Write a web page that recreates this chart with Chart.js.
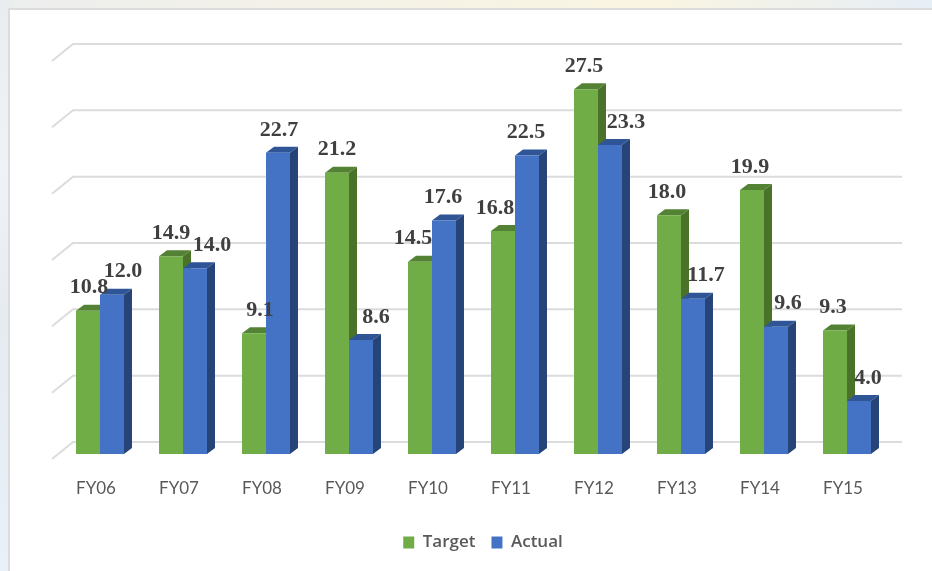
<!DOCTYPE html>
<html><head><meta charset="utf-8">
<style>
html,body{margin:0;padding:0;width:932px;height:571px;overflow:hidden;
background:linear-gradient(90deg,#eceeee 0,#f3f1e8 30%,#faf5e2 70%,#e6eef6 100%);}
#side{position:absolute;left:0;top:0;width:10px;height:571px;background:linear-gradient(180deg,#e9edf0 0,#eff3f7 30%,#e6ebf0 55%,#e8f0f8 100%);}
#panel{position:absolute;left:8px;top:8px;width:940px;height:580px;background:#fff;border:2px solid #dcdcdc;box-sizing:border-box;}
#wrap{position:absolute;left:0;top:0;width:932px;height:571px;}
</style>
<script src="https://cdn.jsdelivr.net/npm/chart.js@4"></script>
</head><body>
<div id="side"></div><div id="panel"></div>
<div id="wrap"><canvas id="c" width="932" height="571"></canvas></div>
<script>
const categories=["FY06","FY07","FY08","FY09","FY10","FY11","FY12","FY13","FY14","FY15"];
const target=[10.8,14.9,9.1,21.2,14.5,16.8,27.5,18.0,19.9,9.3];
const actual=[12.0,14.0,22.7,8.6,17.6,22.5,23.3,11.7,9.6,4.0];
const targetLabelShift=[1,0,6,0,-7,-8,-2,-2,-2,-2];
const actualLabelShift=[11,17,1,15,-1,-1,16,13,12,9];
const depthX=8,depthY=6;
const shades=[{top:"#548235",side:"#4a7329"},{top:"#2f5597",side:"#264478"}];
const labelShifts=[targetLabelShift,actualLabelShift];

function drawDepth(ctx,meta,s){
 meta.data.forEach(b=>{
  const l=b.x-b.width/2,r=b.x+b.width/2,t=b.y,bt=b.base;
  ctx.fillStyle=s.top;
  ctx.beginPath();ctx.moveTo(l,t);ctx.lineTo(l+depthX,t-depthY);ctx.lineTo(r+depthX,t-depthY);ctx.lineTo(r,t);ctx.closePath();ctx.fill();
  ctx.fillStyle=s.side;
  ctx.beginPath();ctx.moveTo(r,t);ctx.lineTo(r+depthX,t-depthY);ctx.lineTo(r+depthX,bt-depthY);ctx.lineTo(r,bt);ctx.closePath();ctx.fill();
 });
}

const wall={
 id:"wall",
 afterLayout(chart){chart.legend.left+=9.5;chart.legend.right+=9.5;},
 beforeDatasetsDraw(chart){
  const {ctx,chartArea:a,scales:{y}}=chart;
  ctx.save();ctx.strokeStyle="#dcdcdc";ctx.lineWidth=2;
  y.ticks.forEach(t=>{
   const p=y.getPixelForValue(t.value);
   ctx.beginPath();
   ctx.moveTo(a.left-6.5,p+5);
   ctx.lineTo(a.left+14.5,p-12);
   ctx.lineTo(a.right+13.5,p-12);
   ctx.stroke();
  });
  ctx.restore();
  // Target goes first so that Actual sits in front of its side face.
  const m=chart.getDatasetMeta(0);
  ctx.save();drawDepth(ctx,m,shades[0]);ctx.restore();
  m.data.forEach(b=>b.draw(ctx));
 },
 beforeDatasetDraw(chart,args){
  if(args.index===0)return false;
  chart.ctx.save();drawDepth(chart.ctx,args.meta,shades[args.index]);chart.ctx.restore();
 },
 afterDatasetsDraw(chart){
  const {ctx}=chart;
  ctx.save();
  ctx.font='bold 22px "Liberation Serif"';ctx.fillStyle="#404040";ctx.textAlign="center";ctx.textBaseline="middle";
  chart.data.datasets.forEach((d,i)=>{
   chart.getDatasetMeta(i).data.forEach((b,j)=>{
    ctx.fillText(d.data[j].toFixed(1),b.x+labelShifts[i][j],b.y-23);
   });
  });
  ctx.restore();
 }
};

new Chart(document.getElementById("c"),{
 type:"bar",
 data:{labels:categories,datasets:[
  {label:"Target",data:target,backgroundColor:"#70ad47",categoryPercentage:0.578,barPercentage:1},
  {label:"Actual",data:actual,backgroundColor:"#4472c4",categoryPercentage:0.578,barPercentage:1}
 ]},
 plugins:[wall],
 options:{
  responsive:false,animation:false,
  layout:{padding:{left:58.5,right:43.5,top:56,bottom:10}},
  plugins:{
   tooltip:{enabled:false},
   legend:{position:"bottom",labels:{boxWidth:11,boxHeight:12,padding:16,color:"#595959",font:{family:"Open Sans",size:17,weight:"600"}}}
  },
  scales:{
   x:{grid:{display:false},border:{display:false},
      ticks:{color:"#595959",padding:16,labelOffset:-4,font:{family:"Lato",size:17},maxRotation:0},
      afterFit(s){s.height=64;}},
   y:{display:false,min:0,max:30,ticks:{stepSize:5},grid:{display:false}}
  }
 }
});
</script>
</body></html>
